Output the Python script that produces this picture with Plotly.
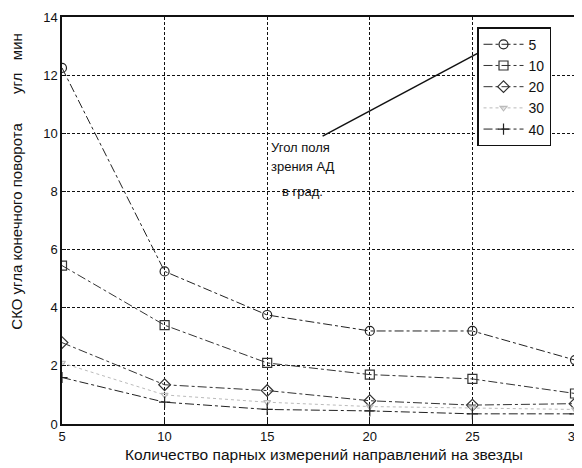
import plotly.graph_objects as go

x_vals = [5, 10, 15, 20, 25, 30]
s5 = [12.25, 5.25, 3.75, 3.2, 3.2, 2.2]
s10 = [5.45, 3.4, 2.1, 1.7, 1.55, 1.05]
s20 = [2.8, 1.35, 1.15, 0.8, 0.65, 0.7]
s30 = [2.1, 1.0, 0.75, 0.6, 0.55, 0.5]
s40 = [1.6, 0.75, 0.5, 0.45, 0.35, 0.35]
series_names = ["5", "10", "20", "30", "40"]
x_ticks = [5, 10, 15, 20, 25, 30]
y_ticks = [0, 2, 4, 6, 8, 10, 12, 14]
x_title = "Количество парных измерений направлений на звезды"
y_title = "СКО угла конечного поворота" + "\u00a0" * 7 + "угл" + "\u00a0" * 3 + "мин"

font_family = "Liberation Sans, Arial, sans-serif"

fig = go.Figure()
styles = [
    (s5, "circle-open", "#222", 9, "dashdot"),
    (s10, "square-open", "#333", 9, "dashdot"),
    (s20, "diamond-open", "#333", 9, "dashdot"),
    (s30, "triangle-down-open", "#bbb", 6, "dot"),
    (s40, "cross-thin-open", "#222", 8, "dashdot"),
]
for name, (ys, sym, col, sz, dash) in zip(series_names, styles):
    fig.add_trace(go.Scatter(
        x=x_vals, y=ys, name=name, mode="lines+markers",
        line=dict(color=col, width=1, dash=dash),
        marker=dict(symbol=sym, size=sz, color=col, line=dict(width=1.2, color=col)),
    ))

ann_font = dict(size=13, color="#111", family=font_family)
fig.add_annotation(x=15.1, y=9.5, text="Угол поля", showarrow=False, xanchor="left", font=ann_font)
fig.add_annotation(x=15.1, y=8.85, text="зрения АД", showarrow=False, xanchor="left", font=ann_font)
fig.add_annotation(x=15.6, y=8.0, text="в град.", showarrow=False, xanchor="left", font=ann_font)
fig.add_shape(type="line", x0=17.7, y0=9.9, x1=25.25, y1=12.75, xref="x", yref="y",
              line=dict(color="#111", width=1.5))

# axis titles as paper annotations
fig.add_annotation(x=0.511, y=-0.076, xref="paper", yref="paper", text=x_title,
                   showarrow=False, yanchor="middle", xanchor="center",
                   font=dict(size=15.5, color="#111", family=font_family))
fig.add_annotation(x=-0.088, y=0.595, xref="paper", yref="paper", text=y_title,
                   showarrow=False, textangle=-90, xanchor="center", yanchor="middle",
                   font=dict(size=15, color="#111", family=font_family))

# page body has an 8px margin, so the figure is sized/offset to compensate
fig.update_layout(
    width=574, height=460,
    margin=dict(l=54, r=7, t=9, b=44),
    paper_bgcolor="white", plot_bgcolor="white",
    font=dict(family=font_family, size=13, color="#111"),
    legend=dict(x=0.809, y=0.975, xanchor="left", yanchor="top",
                bordercolor="#111", borderwidth=1.5, bgcolor="white",
                font=dict(size=14, family=font_family), tracegroupgap=0,
                itemwidth=40),
    showlegend=True,
)
common = dict(showgrid=True, gridcolor="#111", griddash="3px,2px", gridwidth=1.2,
              showline=True, linecolor="#111", linewidth=1.5, mirror=True,
              ticks="inside", ticklen=4, tickcolor="#111", zeroline=False,
              tickfont=dict(size=13), automargin=False, ticklabeloverflow="allow")
fig.update_xaxes(range=[5, 30], tickvals=x_ticks, **common)
fig.update_yaxes(range=[0, 14], tickvals=y_ticks, **common)

fig.write_html("out.html")
